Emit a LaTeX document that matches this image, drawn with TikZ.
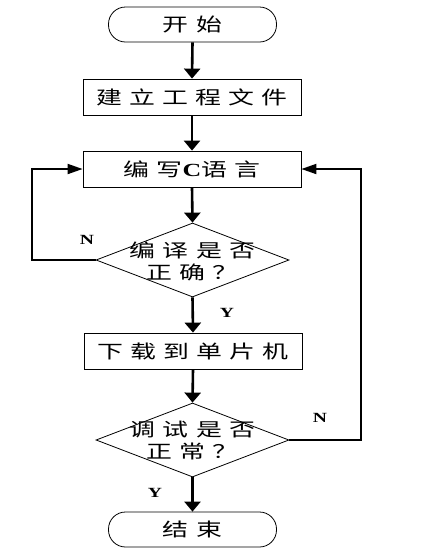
\documentclass[tikz,border=0pt]{standalone}
\usepackage{fontspec}
\usepackage{graphicx}
\setmainfont{Liberation Serif}
\newfontfamily\cjk[LetterSpace=28]{Noto Sans CJK SC}
\usepackage{tikz}
\usetikzlibrary{positioning,shapes.geometric,arrows.meta}
\newcommand{\wtxt}[1]{\scalebox{1.4}[1]{\cjk #1}}

\begin{document}
\begin{tikzpicture}[x=1pt, y=-1pt,
  every node/.style={font=\fontsize{18.5}{22}\selectfont},
  term/.style={draw, rounded corners=17pt, minimum width=168pt,
               minimum height=35pt, inner sep=0pt, line width=0.8pt},
  proc/.style={draw, minimum width=218pt, minimum height=36pt,
               inner sep=0pt, line width=0.8pt},
  dec/.style={draw, diamond, minimum width=193pt, minimum height=74pt,
              inner sep=0pt, line width=0.8pt},
  dt/.style={align=center, inner sep=0pt},
  yn/.style={font=\fontsize{14}{16}\selectfont\bfseries},
  ma/.style={line width=2.6pt, -{Triangle[length=10pt, width=16pt]}},
  la/.style={line width=1.8pt, -{Triangle[length=15pt, width=10pt]}},
]
\useasboundingbox (0,0) rectangle (428,555);
\node[term] (start) at (192.5,24.5) {\wtxt{开始}};
\node[proc] (proj)  at (192,97)     {\wtxt{建立工程文件}};
\node[proc] (code)  at (192,169)    {\wtxt{编写{\rmfamily\bfseries C}语言}};
\node[dec]  (comp)  at (192.5,260)  {};
\node[dt]   (compt) at (192.5,261)  {\wtxt{编译是否}\\\wtxt{正确？}};
\node[proc] (load)  at (193,351)    {\wtxt{下载到单片机}};
\node[dec]  (dbg)   at (192.5,440)  {};
\node[dt]   (dbgt)  at (192.5,441)  {\wtxt{调试是否}\\\wtxt{正常？}};
\node[term] (stop)  at (192.5,529.5) {\wtxt{结束}};
\coordinate (lx) at (32,260);
\coordinate (rx) at (361,440);
\draw[ma] (start.south) -- (proj.north);
\draw[ma] (proj.south) -- (code.north);
\draw[ma] (code.south) -- (comp.north);
\draw[ma] (comp.south) -- (load.north);
\draw[ma] (load.south) -- (dbg.north);
\draw[ma] (dbg.south) -- (stop.north);
\draw[la] (comp.west) -- (lx) |- (code.west);
\draw[la] (dbg.east) -- (rx) |- (code.east);
\node[yn] (y1) at (227,313) {\scalebox{1.4}[1]{Y}};
\node[yn] (y2) at (155,493) {\scalebox{1.4}[1]{Y}};
\node[yn] (n1) at (87,240)  {\scalebox{1.4}[1]{N}};
\node[yn] (n2) at (320,418) {\scalebox{1.4}[1]{N}};
\end{tikzpicture}
\end{document}
